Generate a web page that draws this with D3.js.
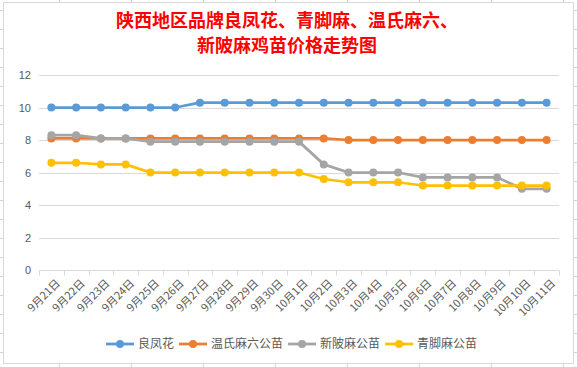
<!DOCTYPE html>
<html><head><meta charset="utf-8">
<script src="https://cdn.jsdelivr.net/npm/d3@7"></script>
<style>
html,body{margin:0;padding:0;background:#fff;}
svg{display:block;}
</style></head>
<body>
<svg id="c" width="577" height="367"></svg>
<script>
const titleLines = ["陕西地区品牌良凤花、青脚麻、温氏麻六、", "新陂麻鸡苗价格走势图"];
const categories = ["9月21日","9月22日","9月23日","9月24日","9月25日","9月26日","9月27日","9月28日","9月29日","9月30日","10月1日","10月2日","10月3日","10月4日","10月5日","10月6日","10月7日","10月8日","10月9日","10月10日","10月11日"];
const seriesNames = ["良凤花","温氏麻六公苗","新陂麻公苗","青脚麻公苗"];
const seriesColors = ["#5b9bd5","#ed7d31","#a5a5a5","#ffc000"];
const lfh = [10,10,10,10,10,10,10.3,10.3,10.3,10.3,10.3,10.3,10.3,10.3,10.3,10.3,10.3,10.3,10.3,10.3,10.3];
const wsml = [8.1,8.1,8.1,8.1,8.1,8.1,8.1,8.1,8.1,8.1,8.1,8.1,8,8,8,8,8,8,8,8,8];
const xpm = [8.3,8.3,8.1,8.1,7.9,7.9,7.9,7.9,7.9,7.9,7.9,6.5,6,6,6,5.7,5.7,5.7,5.7,5,5];
const qjm = [6.6,6.6,6.5,6.5,6,6,6,6,6,6,6,5.6,5.4,5.4,5.4,5.2,5.2,5.2,5.2,5.2,5.2];
const seriesValues = [lfh, wsml, xpm, qjm];
const yTicks = [0,2,4,6,8,10,12];

const svg = d3.select("#c");
const W = 577, H = 367;

// spreadsheet background grid
const bg = svg.append("g");
const colXs = d3.range(-13, W, 72);
const rowYs = d3.range(10, H, 19);
bg.selectAll("line.v").data(colXs).join("line")
  .attr("x1", d => d + 0.5).attr("x2", d => d + 0.5).attr("y1", 0).attr("y2", H)
  .attr("stroke", "#d4d4d4");
bg.selectAll("line.h").data(rowYs).join("line")
  .attr("x1", 0).attr("x2", W).attr("y1", d => d + 0.5).attr("y2", d => d + 0.5)
  .attr("stroke", "#d4d4d4");

// chart area
svg.append("rect").attr("x", 3.5).attr("y", 2.5).attr("width", 570).attr("height", 361)
  .attr("fill", "#fff").attr("stroke", "#d9d9d9");

// title
const title = svg.append("text").attr("text-anchor", "middle")
  .attr("font-family", "'Noto Sans CJK SC'").attr("font-size", 18).attr("font-weight", "bold")
  .attr("fill", "#ff0000");
title.selectAll("tspan").data(titleLines).join("tspan")
  .attr("x", 287).attr("y", (d, i) => 27 + i * 25).text(d => d);

// scales
const x = d3.scaleBand().domain(categories).range([39, 559]);
const y = d3.scaleLinear().domain([0, 12]).range([270, 75]);
const cx = d => x(d) + x.bandwidth() / 2;

// gridlines
svg.append("g").selectAll("line").data(yTicks.filter(t => t > 0)).join("line")
  .attr("x1", 39).attr("x2", 559)
  .attr("y1", d => Math.round(y(d)) + 0.5).attr("y2", d => Math.round(y(d)) + 0.5)
  .attr("stroke", "#d9d9d9").attr("stroke-width", 1);

// y axis
const yAxis = svg.append("g").attr("transform", "translate(31,0)")
  .call(d3.axisLeft(y).tickValues(yTicks).tickSize(0).tickPadding(0).tickFormat(d3.format("d")));
yAxis.select(".domain").remove();
yAxis.selectAll("text").attr("font-family", "'Liberation Sans', Arial, sans-serif").attr("font-size", 11).attr("fill", "#595959");

// x axis
const xAxis = svg.append("g").attr("transform", `translate(0,${Math.round(y(0)) + 0.5})`);
xAxis.append("line").attr("x1", 39).attr("x2", 559).attr("stroke", "#d9d9d9");
const boundaries = categories.map(c => x(c)).concat([559]);
xAxis.selectAll("line.tk").data(boundaries).join("line").attr("class", "tk")
  .attr("x1", d => Math.round(d) + 0.5).attr("x2", d => Math.round(d) + 0.5)
  .attr("y1", 0).attr("y2", 5).attr("stroke", "#d9d9d9");
xAxis.selectAll("text").data(categories).join("text")
  .attr("transform", d => `translate(${cx(d) + 4},${8}) rotate(-45)`)
  .attr("text-anchor", "end").attr("dy", "0.7em")
  .attr("font-family", "'Noto Sans CJK SC'").attr("font-size", 11).attr("fill", "#595959")
  .text(d => d);

// series
const line = d3.line().x((d, i) => cx(categories[i])).y(d => y(d));
seriesValues.forEach((vals, si) => {
  const g = svg.append("g");
  g.append("path").datum(vals).attr("d", line).attr("fill", "none")
    .attr("stroke", seriesColors[si]).attr("stroke-width", 2.75).attr("stroke-linejoin", "round");
  g.selectAll("circle").data(vals).join("circle")
    .attr("cx", (d, i) => cx(categories[i])).attr("cy", d => y(d)).attr("r", 4)
    .attr("fill", seriesColors[si]);
});

// legend
const legend = svg.append("g");
let lx = 106;
seriesNames.forEach((n, i) => {
  const g = legend.append("g").attr("transform", `translate(${lx},344)`);
  g.append("line").attr("x1", 0).attr("x2", 28).attr("stroke", seriesColors[i]).attr("stroke-width", 2.75);
  g.append("circle").attr("cx", 14).attr("r", 4).attr("fill", seriesColors[i]);
  const t = g.append("text").attr("x", 32).attr("dy", "0.35em")
    .attr("font-family", "'Noto Sans CJK SC'").attr("font-size", 12).attr("fill", "#595959").text(n);
  lx += 32 + t.node().getComputedTextLength() + 5;
});
</script>
</body></html>
